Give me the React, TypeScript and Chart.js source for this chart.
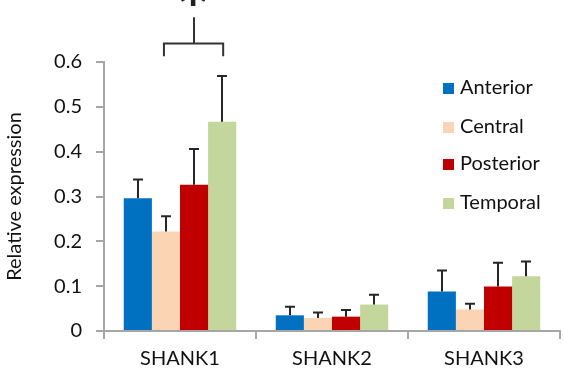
import React, { useEffect, useRef } from "react";
import { Chart, registerables } from "chart.js";

Chart.register(...registerables);

const categories = ["SHANK1", "SHANK2", "SHANK3"];
const seriesNames = ["Anterior", "Central", "Posterior", "Temporal"];
const seriesColors = ["#0070C0", "#FBD4B4", "#C00000", "#C3D69B"];

const anterior = [0.296, 0.035, 0.088];
const central = [0.222, 0.029, 0.048];
const posterior = [0.326, 0.032, 0.099];
const temporal = [0.467, 0.059, 0.122];

// upper error bar ends (mean + SD)
const anteriorErr = [0.338, 0.054, 0.135];
const centralErr = [0.256, 0.041, 0.061];
const posteriorErr = [0.406, 0.047, 0.152];
const temporalErr = [0.569, 0.081, 0.155];

const yTicks = [0, 0.1, 0.2, 0.3, 0.4, 0.5, 0.6];

const FONT = "Lato, 'Open Sans', sans-serif";
const TEXT = "#111111";

const values = [anterior, central, posterior, temporal];
const errTops = [anteriorErr, centralErr, posteriorErr, temporalErr];

const errorBarPlugin = {
  id: "errorBars",
  afterDatasetsDraw(chart: any) {
    const { ctx } = chart;
    const y = chart.scales.y;
    ctx.save();
    ctx.strokeStyle = "#262626";
    ctx.lineWidth = 2;
    errTops.forEach((tops, di) => {
      const meta = chart.getDatasetMeta(di);
      meta.data.forEach((bar: any, i: number) => {
        const x = Math.round(bar.x);
        const yTop = y.getPixelForValue(tops[i]);
        const yBase = y.getPixelForValue(values[di][i]);
        ctx.beginPath();
        ctx.moveTo(x, yBase);
        ctx.lineTo(x, yTop);
        ctx.moveTo(x - 5, yTop);
        ctx.lineTo(x + 5, yTop);
        ctx.stroke();
      });
    });
    ctx.restore();
  },
};

// significance bracket between Central and Temporal of the first group
const bracketPlugin = {
  id: "bracket",
  afterDraw(chart: any) {
    const { ctx } = chart;
    const y = chart.scales.y;
    const x1 = chart.getDatasetMeta(1).data[0].x - 2;
    const x2 = chart.getDatasetMeta(3).data[0].x + 1;
    const yBar = Math.round(y.getPixelForValue(0.642)) + 0.5;
    const yFoot = y.getPixelForValue(0.613);
    const yStem = y.getPixelForValue(0.7);
    const xm = Math.round((x1 + x2) / 2);
    ctx.save();
    ctx.strokeStyle = "#333333";
    ctx.lineWidth = 2;
    ctx.beginPath();
    ctx.moveTo(x1, yFoot);
    ctx.lineTo(x1, yBar);
    ctx.lineTo(x2, yBar);
    ctx.lineTo(x2, yFoot);
    ctx.moveTo(xm, yBar);
    ctx.lineTo(xm, yStem);
    ctx.stroke();
    // asterisk sitting just above the stem, partly cut by the top edge
    ctx.fillStyle = "#222222";
    ctx.font = "bold 54px 'DejaVu Sans', sans-serif";
    ctx.textAlign = "center";
    ctx.textBaseline = "alphabetic";
    const m = ctx.measureText("*");
    ctx.fillText("*", xm - 1, 6 - m.actualBoundingBoxDescent);
    ctx.restore();
  },
};

const legendPlugin = {
  id: "sideLegend",
  afterDraw(chart: any) {
    const { ctx } = chart;
    const rows = [88, 127, 164, 203];
    ctx.save();
    ctx.font = `20px ${FONT}`;
    ctx.textBaseline = "middle";
    ctx.textAlign = "left";
    seriesNames.forEach((name, i) => {
      ctx.fillStyle = seriesColors[i];
      ctx.fillRect(443, rows[i] - 5, 11, 11);
      ctx.fillStyle = TEXT;
      ctx.fillText(name, 460, rows[i]);
    });
    ctx.restore();
  },
};

export default function App() {
  const ref = useRef<HTMLCanvasElement>(null);

  useEffect(() => {
    if (!ref.current) return;
    const chart = new Chart(ref.current, {
      type: "bar",
      data: {
        labels: categories,
        datasets: seriesNames.map((name, i) => ({
          label: name,
          data: values[i],
          backgroundColor: seriesColors[i],
          borderWidth: 0,
          barPercentage: 1,
          categoryPercentage: 0.74,
        })),
      },
      options: {
        responsive: false,
        animation: false,
        layout: { padding: { top: 62, right: 4, left: 0, bottom: 0 } },
        plugins: {
          legend: { display: false },
          tooltip: { enabled: false },
        },
        scales: {
          x: {
            afterFit: (s: any) => {
              s.height = 45;
            },
            border: { color: "#a6a6a6", width: 2 },
            grid: {
              offset: true,
              drawOnChartArea: false,
              drawTicks: true,
              tickLength: 8,
              color: "#a6a6a6",
              lineWidth: 2,
            },
            ticks: {
              color: TEXT,
              padding: 8,
              font: { family: FONT, size: 20 },
            },
          },
          y: {
            min: 0,
            max: 0.6,
            afterFit: (s: any) => {
              s.width = 104;
            },
            afterBuildTicks: (s: any) => {
              s.ticks = yTicks.map((v) => ({ value: v }));
            },
            border: { color: "#a6a6a6", width: 2 },
            grid: {
              drawOnChartArea: false,
              drawTicks: true,
              tickLength: 8,
              color: "#a6a6a6",
              lineWidth: 2,
            },
            ticks: {
              color: TEXT,
              padding: 14,
              font: { family: FONT, size: 20 },
              callback: (v: any) => (v === 0 ? "0" : Number(v).toFixed(1)),
            },
            title: {
              display: true,
              text: "Relative expression",
              color: TEXT,
              font: { family: FONT, size: 20 },
              padding: { top: 3, bottom: 0 },
            },
          },
        },
      },
      plugins: [errorBarPlugin, bracketPlugin, legendPlugin],
    });
    return () => chart.destroy();
  }, []);

  return (
    <div style={{ position: "absolute", left: 0, top: 0, width: 564, height: 376, background: "#fff" }}>
      <canvas ref={ref} width={564} height={376} />
    </div>
  );
}
